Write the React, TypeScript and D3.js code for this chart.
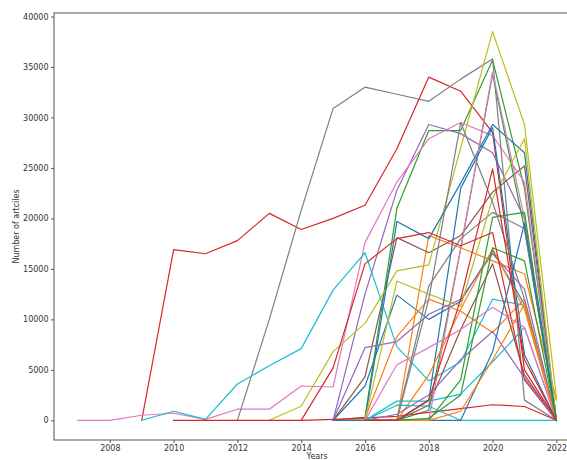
import { useRef, useEffect } from 'react';
import * as d3 from 'd3';

const N = null;

const years = [2007, 2008, 2009, 2010, 2011, 2012, 2013, 2014, 2015, 2016, 2017, 2018, 2019, 2020, 2021, 2022];
const xTicks = [2008, 2010, 2012, 2014, 2016, 2018, 2020, 2022];
const yTicks = [0, 5000, 10000, 15000, 20000, 25000, 30000, 35000, 40000];

// values per year, 2007..2022 (null = no data)
const blueA = [N, N, N, N, N, N, N, N, 0, 3400, 12400, 10000, 11800, 16800, 11500, 0];
const blueB = [N, N, N, N, N, N, N, N, 0, 0, 19700, 18000, 23500, 29300, 26500, 0];
const blueC = [N, N, N, N, N, N, N, N, 0, 0, 0, 2000, 23000, 29000, 6500, 0];
const blueD = [N, N, N, N, N, N, N, N, N, 0, 0, 0, 0, 6800, 19500, 0];

const orangeA = [N, N, N, N, N, N, N, N, 0, 0, 0, 18300, 17100, 15800, 14500, 2000];
const orangeB = [N, N, N, N, N, N, N, N, 0, 200, 8300, 12000, 10800, 8700, 12000, 0];
const orangeC = [N, N, N, N, N, N, N, N, N, 0, 0, 4500, 11000, 17000, 11000, 0];
const orangeD = [N, N, N, N, N, N, N, N, N, 0, 0, 0, 900, 6000, 11500, 0];

const greenA = [N, N, N, N, N, N, N, N, 0, 300, 21000, 28700, 28700, 35700, 23000, 0];
const greenB = [N, N, N, N, N, N, N, N, N, 0, 0, 1000, 17000, 34300, 19000, 0];
const greenC = [N, N, N, N, N, N, N, N, N, 0, 0, 0, 4000, 20100, 20600, 0];
const greenD = [N, N, N, N, N, N, N, N, N, 0, 0, 200, 2500, 17100, 15800, 0];

const redA = [N, N, 0, 16900, 16500, 17800, 20500, 18900, 20000, 21300, 26900, 34000, 32600, 28500, 5000, 0];
const redB = [N, N, N, 0, 0, 0, 0, 0, 100, 250, 400, 780, 1150, 1540, 1370, 0];
const redC = [N, N, N, N, N, N, N, 0, 5200, 15500, 18000, 18600, 17300, 18600, 4000, 0];
const redD = [N, N, N, N, N, N, N, N, N, 0, 0, 2000, 12000, 24900, 6000, 0];

const purpleA = [N, N, N, N, N, N, N, N, 0, 12500, 22800, 29300, 28400, 26500, 20000, 0];
const purpleB = [N, N, N, N, N, N, N, N, 0, 7200, 7800, 10500, 12000, 16500, 13000, 0];
const purpleC = [N, N, N, N, N, N, N, N, N, 0, 600, 2500, 6000, 8800, 4200, 0];

const brownA = [N, N, N, N, N, N, N, N, 0, 4300, 18100, 16600, 18300, 22600, 25200, 0];
const brownB = [N, N, N, N, N, N, N, N, N, 0, 0, 1500, 9000, 15500, 4500, 0];

const pinkA = [0, 0, 500, 700, 100, 1100, 1100, 3400, 3300, 17600, 23600, 27900, 29500, 28200, 23600, 0];
const pinkB = [N, N, N, N, N, N, N, N, N, 0, 0, 0, 17000, 34500, 20000, 0];
const pinkC = [N, N, N, N, N, N, N, N, N, 0, 5500, 7200, 9000, 11200, 9200, 0];

const grayA = [N, N, N, N, N, 0, 10000, 20800, 30900, 33000, 32300, 31600, 33800, 35800, 2000, 0];
const grayB = [N, N, N, N, N, N, N, N, N, 0, 0, 13300, 18000, 20600, 19000, 0];
const grayC = [N, N, N, N, N, N, N, N, N, N, 0, 12000, 29500, 21600, 12000, 0];

const oliveA = [N, N, N, N, N, N, 0, 1400, 6800, 9600, 14800, 15400, 27000, 38500, 29300, 2300];
const oliveB = [N, N, N, N, N, N, N, N, N, 0, 13800, 12500, 11300, 22000, 27900, 0];

const cyanA = [N, N, 0, 900, 100, 3600, 5400, 7100, 12900, 16600, 7300, 3900, 5800, 12000, 11400, 0];
const cyanB = [N, N, N, N, N, N, N, N, N, 0, 1900, 1900, 2600, 5800, 9200, 0];
const cyanC = [N, N, N, N, N, N, N, N, N, 0, 1500, 1400, 0, 0, 0, 0];

// grouped in matplotlib's tab10 colour order
const seriesByColour = [
  [blueA, blueB, blueC, blueD],
  [orangeA, orangeB, orangeC, orangeD],
  [greenA, greenB, greenC, greenD],
  [redA, redB, redC, redD],
  [purpleA, purpleB, purpleC],
  [brownA, brownB],
  [pinkA, pinkB, pinkC],
  [grayA, grayB, grayC],
  [oliveA, oliveB],
  [cyanA, cyanB, cyanC],
];

const WIDTH = 567;
const HEIGHT = 460;
const PLOT = { left: 54, right: 580.3, top: 13, bottom: 440 };
const FONT = '"DejaVu Sans", sans-serif';

export default function App() {
  const svgRef = useRef<SVGSVGElement>(null);

  useEffect(() => {
    if (!svgRef.current) return;
    const svg = d3.select(svgRef.current);
    svg.selectAll('*').remove();

    const x = d3.scaleLinear().domain([2006.25, 2022.75]).range([PLOT.left, PLOT.right]);
    const y = d3.scaleLinear().domain([-1950, 40350]).range([PLOT.bottom, PLOT.top]);
    const palette = d3.schemeCategory10;

    const line = d3
      .line<number | null>()
      .defined((d) => d !== null)
      .x((_, i) => x(years[i]))
      .y((d) => y(d as number));

    // draw in rounds so colours interleave like the matplotlib cycle
    const maxLen = d3.max(seriesByColour, (g) => g.length) || 0;
    const linesG = svg.append('g');
    for (let k = 0; k < maxLen; k++) {
      seriesByColour.forEach((group, ci) => {
        const s = group[k];
        if (!s) return;
        linesG
          .append('path')
          .attr('d', line(s))
          .attr('fill', 'none')
          .attr('stroke', palette[ci])
          .attr('stroke-width', 1.2)
          .attr('stroke-linejoin', 'round')
          .attr('stroke-linecap', 'square');
      });
    }

    // spines
    const spine = svg.append('g').attr('stroke', '#555').attr('stroke-width', 1).attr('fill', 'none');
    spine.append('rect')
      .attr('x', PLOT.left)
      .attr('y', PLOT.top)
      .attr('width', PLOT.right - PLOT.left)
      .attr('height', PLOT.bottom - PLOT.top);

    const yAxis = svg
      .append('g')
      .attr('transform', `translate(${PLOT.left},0)`)
      .call(d3.axisLeft(y).tickValues(yTicks).tickSize(3).tickPadding(2.5).tickFormat((d) => String(d)));
    yAxis.select('.domain').remove();
    yAxis.selectAll('line').attr('stroke', '#555');
    yAxis.selectAll('text').attr('fill', '#333').style('font-family', FONT).style('font-size', '8px');

    const xAxis = svg
      .append('g')
      .attr('transform', `translate(0,${PLOT.bottom})`)
      .call(d3.axisBottom(x).tickValues(xTicks).tickSize(3).tickPadding(2.5).tickFormat((d) => String(d)));
    xAxis.select('.domain').remove();
    xAxis.selectAll('line').attr('stroke', '#555');
    xAxis.selectAll('text').attr('fill', '#333').style('font-family', FONT).style('font-size', '8px');

    svg.append('text')
      .attr('transform', `translate(18.5,${(PLOT.top + PLOT.bottom) / 2}) rotate(-90)`)
      .attr('text-anchor', 'middle')
      .attr('fill', '#333')
      .style('font-family', FONT)
      .style('font-size', '8px')
      .text('Number of artciles');

    // sits at the very bottom edge, as in the source image
    svg.append('text')
      .attr('x', (PLOT.left + PLOT.right) / 2)
      .attr('y', 459)
      .attr('text-anchor', 'middle')
      .attr('fill', '#333')
      .style('font-family', FONT)
      .style('font-size', '8px')
      .text('Years');
  }, []);

  return (
    <svg
      ref={svgRef}
      width={WIDTH}
      height={HEIGHT}
      style={{ position: 'absolute', left: 0, top: 0, background: '#fff' }}
    />
  );
}
